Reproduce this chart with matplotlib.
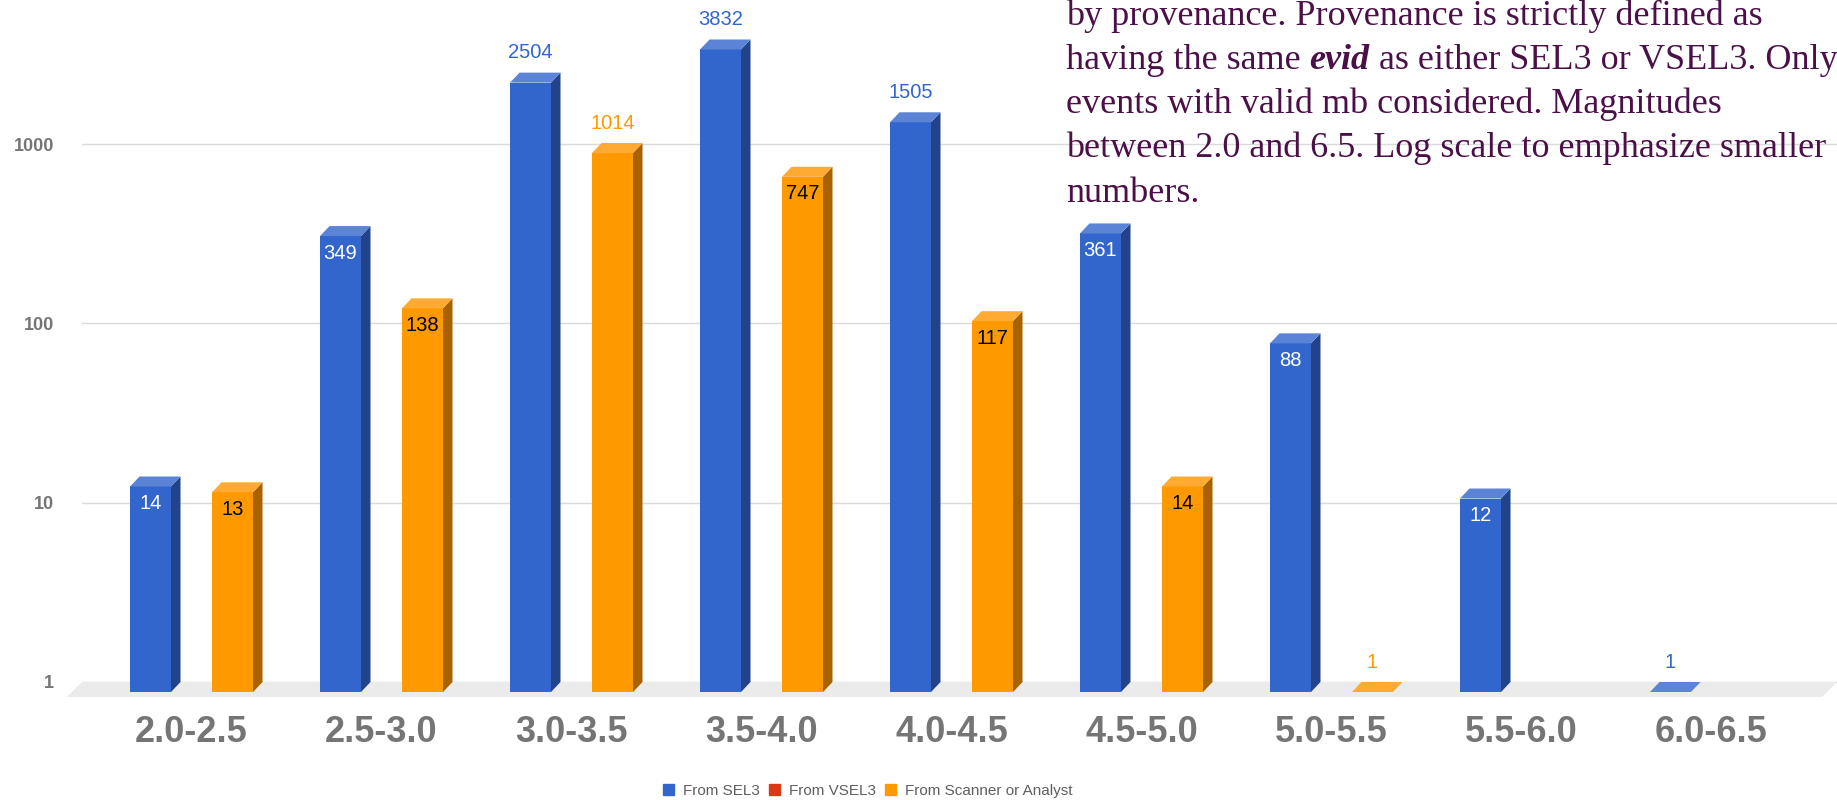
import numpy as np
import matplotlib.pyplot as plt
from matplotlib.patches import Patch, Polygon

# magnitude bins and event counts per provenance
groups = ["2.0-2.5", "2.5-3.0", "3.0-3.5", "3.5-4.0", "4.0-4.5",
          "4.5-5.0", "5.0-5.5", "5.5-6.0", "6.0-6.5"]
sel3 = [14, 349, 2504, 3832, 1505, 361, 88, 12, 1]
vsel3 = [0, 0, 0, 0, 0, 0, 0, 0, 0]
scanner = [13, 138, 1014, 747, 117, 14, 1, 0, 0]

series = [
    ("From SEL3", sel3, "#3366cc", "#22428a", "#5b84d6", "white"),
    ("From VSEL3", vsel3, "#dc3912", "#8f250c", "#e3613f", "white"),
    ("From Scanner or Analyst", scanner, "#ff9900", "#a86300", "#ffab33", "black"),
]

note = [
    "by provenance. Provenance is strictly defined as",
    None,  # line with the bold-italic word, built below
    "events with valid mb considered. Magnitudes",
    "between 2.0 and 6.5. Log scale to emphasize smaller",
    "numbers.",
]

W, H = 1837, 800
DEC = 179.3              # px per decade on the log axis
GRP = 190.0              # px per magnitude bin
BW = 41 / GRP            # bar width in bin units
DX = 9.5 / GRP           # 3d depth, x
K = 10 ** (10 / DEC)     # 3d depth, y (factor on a log axis)
KF = 10 ** (15 / DEC)    # floor depth

fig = plt.figure(figsize=(W / 100, H / 100), dpi=100)
ax = fig.add_axes([82 / W, 100 / H, (W - 82) / W, 700 / H])
ax.set_yscale("log")
x0, x1 = (82 - 191.5) / GRP, (W - 191.5) / GRP
ax.set_xlim(x0, x1)
ax.set_ylim(10 ** (-18 / DEC), 10 ** (682 / DEC))
for s in ax.spines.values():
    s.set_visible(False)

ax.set_yticks([1, 10, 100, 1000], ["1", "10", "100", "1000"])
ax.yaxis.set_minor_locator(plt.NullLocator())
ax.tick_params(axis="y", length=0, pad=20, labelsize=13, labelcolor="#757575")
for t in ax.get_yticklabels():
    t.set_fontweight("bold")
    t.set_family("Liberation Sans")
ax.set_xticks(range(len(groups)), groups)
ax.tick_params(axis="x", length=0, pad=10.5, labelsize=26, labelcolor="#757575")
for t in ax.get_xticklabels():
    t.set_fontweight("bold")
    t.set_family("Liberation Sans")
ax.yaxis.grid(True, color="#dadada", lw=1.0)
ax.set_axisbelow(True)

# grey floor under the bars
d = 15 / GRP
ax.add_patch(Polygon([(x0, 1), (x1, 1), (x1 - d, 1 / KF), (x0 - d, 1 / KF)],
                     closed=True, color="#ebebeb", lw=0, clip_on=False, zorder=1))

up = 10 ** (20 / DEC)
down = 10 ** (-17 / DEC)
for j, (name, vals, c, c_side, c_top, c_in) in enumerate(series):
    off = (j - 1) * BW
    for i, v in enumerate(vals):
        if v <= 0:
            continue
        xl = i + off - BW / 2
        xr = xl + BW
        if v > 1:
            ax.bar(i + off, v / K - 1 / K, bottom=1 / K, width=BW, color=c,
                   lw=0, zorder=3)
            ax.fill([xr, xr, xr + DX, xr + DX], [1 / K, v / K, v, 1],
                    color=c_side, lw=0, zorder=3)
        ax.fill([xl, xr, xr + DX, xl + DX], [v / K, v / K, v, v],
                color=c_top, lw=0, zorder=3)
        if v >= 1000 or v <= 1:
            ax.text(i + off, v * up, str(v), ha="center", va="center",
                    fontsize=14.5, color=c, family="Liberation Sans", zorder=4)
        else:
            ax.text(i + off, v / K * down, str(v), ha="center", va="center",
                    fontsize=14.5, color=c_in, family="Liberation Sans", zorder=4)

handles = [Patch(color=c) for _, _, c, *_ in series]
fig.legend(handles, [s[0] for s in series], loc="center",
           bbox_to_anchor=(868 / W, 9 / H), ncol=3, frameon=False,
           handlelength=0.7, handleheight=0.7,
           handletextpad=0.6, columnspacing=0.6, labelcolor="#5f5f5f",
           prop={"family": "Liberation Sans", "size": 11})

# explanatory note, upper right
tx, fs, col = 1066, 26, "#4c1048"
base = [25, 69, 113, 157, 202]
for k, line in enumerate(note):
    if line is not None:
        fig.text(tx / W, 1 - base[k] / H, line, fontsize=fs, color=col,
                 family="Liberation Serif", va="baseline", ha="left")
r = fig.canvas.get_renderer()
x = tx
parts = [("having the same", "normal", "normal"), ("evid", "italic", "bold"),
         ("as either SEL3 or VSEL3. Only", "normal", "normal")]
for txt, style, weight in parts:
    t = fig.text(x / W, 1 - base[1] / H, txt, fontsize=fs, color=col,
                 family="Liberation Serif", style=style, weight=weight,
                 va="baseline", ha="left")
    x = t.get_window_extent(r).x1 + 0.25 * fs * 100 / 72

fig.savefig("out.png", dpi=100)
